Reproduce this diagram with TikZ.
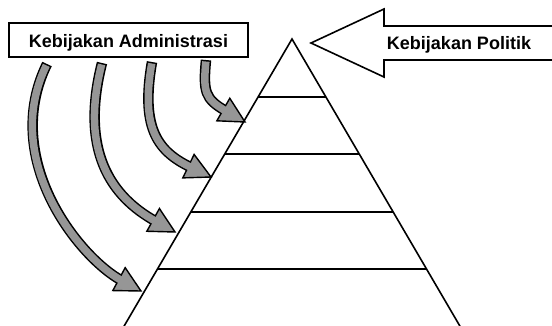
\documentclass[tikz,border=0pt]{standalone}
\usepackage{fontspec}
\setmainfont{Liberation Sans}
\usetikzlibrary{calc}
\definecolor{arrgray}{RGB}{150,150,150}
\begin{document}
\begin{tikzpicture}[x=1pt,y=-1pt,
  lbl/.style={font=\bfseries\fontsize{18}{20}\selectfont},
  edge/.style={line width=1.6pt,line join=miter},
  shaft/.style={line width=10.5pt},
  shaftin/.style={line width=7.5pt,draw=arrgray,shorten <=1.5pt}]
\useasboundingbox (0,0) rectangle (552,325);
\clip (0,0) rectangle (552,325);
%pyramid
\draw[edge](121.8,330)--(292,39)--(462.2,330);
\foreach \y in {97,154,212,269}
  \draw[edge]({292-0.585*(\y-39)},\y)--({292+0.585*(\y-39)},\y);
%policy arrow
\draw[edge,fill=white](560,26)--(384,26)--(384,9)--(311,43)--(384,77)--(384,60)--(560,60);
\node[lbl,anchor=base](politik) at (459,49){Kebijakan Politik};
%administration box
\node[lbl,draw,edge,line width=1.9pt,inner sep=0pt,minimum width=239pt,minimum height=34pt,
  text height=16pt,text depth=2pt](admin) at (128.5,40){Kebijakan Administrasi};
%bent arrows
\coordinate(t1) at (47,64);  \coordinate(a1) at (0,160);   \coordinate(b1) at (80,258);  \coordinate(h1) at (141,291);
\coordinate(t2) at (102,63); \coordinate(a2) at (80,150);  \coordinate(b2) at (110,196); \coordinate(h2) at (175,232);
\coordinate(t3) at (152,62); \coordinate(a3) at (140,130); \coordinate(b3) at (159,152); \coordinate(h3) at (211,177);
\coordinate(t4) at (206,60); \coordinate(a4) at (203,92);  \coordinate(b4) at (205,99);  \coordinate(h4) at (245,122);
\foreach \i in {1,...,4}{
  \coordinate(e\i) at ($(h\i)!22pt!(b\i)$);
  \coordinate(m\i) at ($(h\i)!25pt!(b\i)$);
  \draw[shaft](t\i) .. controls (a\i) and (b\i) .. (e\i);
  \draw[edge,line width=1.4pt,fill=arrgray](h\i)--($(m\i)!13pt!90:(h\i)$)--($(m\i)!13pt!-90:(h\i)$)--cycle;
  \draw[shaftin](t\i) .. controls (a\i) and (b\i) .. (e\i);
}
\end{tikzpicture}
\end{document}
